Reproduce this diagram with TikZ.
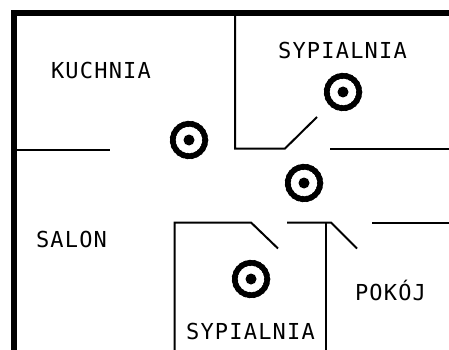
\documentclass[tikz,border=0pt]{standalone}
\usepackage{fontspec}
\setmainfont[LetterSpace=5.4]{DejaVu Sans Mono}
\tikzset{
  outerwall/.style={draw=black,line width=5.5pt,line cap=butt,line join=miter},
  innerwall/.style={draw=black,line width=2pt,line cap=butt,line join=miter},
  roomlabel/.style={inner sep=0pt,anchor=base,text=black,font=\fontsize{22}{22}\selectfont},
  ringsolid/.style={draw=black,line width=5.4pt},
  ringbeads/.style={draw=black,line width=6.4pt,line cap=round,dash pattern=on 0pt off 4.4pt},
  hubdot/.style={circle,fill=black,minimum size=11pt,inner sep=0pt,draw=none}
}
\newcommand{\lamp}[2]{%
  \coordinate (#2) at #1;
  \draw[ringsolid] (#2) circle[radius=16.2pt];
  \draw[ringbeads] (#2) circle[radius=16.2pt];
  \node[hubdot] at (#2) {};
}
\begin{document}
\begin{tikzpicture}[x=1pt,y=-1pt]
\useasboundingbox[fill=white] (0,0) rectangle (449,350);
% outer walls
\coordinate (tr) at (449,13);
\coordinate (tl) at (14,13);
\coordinate (bl) at (14,350);
\draw[outerwall] (tr) -- (tl) -- (bl);
% kitchen wall
\draw[innerwall] (17,150) -- (110,150);
% upper bedroom
\draw[innerwall] (235,16) -- (235,148.5) -- (285,148.5) -- (317,117);
\draw[innerwall] (330,148.5) -- (449,148.5);
% lower rooms
\draw[innerwall] (174.5,350) -- (174.5,222.5) -- (251,222.5) -- (278,248.5);
\draw[innerwall] (287,222.5) -- (331,222.5) -- (357,248.5);
\draw[innerwall] (326,222.5) -- (326,350);
\draw[innerwall] (372,222.5) -- (449,222.5);
% lamps
\lamp{(189,140)}{lampa}
\lamp{(343,92)}{lampb}
\lamp{(304,183)}{lampc}
\lamp{(251,279)}{lampd}
% labels
\node[roomlabel] (kuchnia) at (101,78.5) {KUCHNIA};
\node[roomlabel] (syp1) at (342.5,59) {SYPIALNIA};
\node[roomlabel] (salon) at (71.5,247.5) {SALON};
\node[roomlabel] (syp2) at (250.5,339.5) {SYPIALNIA};
\node[roomlabel] (pokoj) at (390.5,300) {POKÓJ};
\end{tikzpicture}
\end{document}
